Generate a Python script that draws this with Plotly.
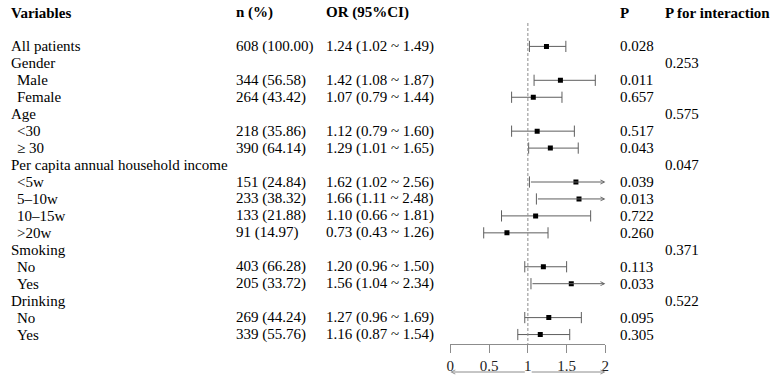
import plotly.graph_objects as go

# ---------------- data ----------------
labels = ["All patients", "Gender", "Male", "Female", "Age", "<30", "≥ 30",
          "Per capita annual household income", "<5w", "5–10w", "10–15w", ">20w",
          "Smoking", "No", "Yes", "Drinking", "No", "Yes"]
indent = [0, 0, 1, 1, 0, 1, 1, 0, 1, 1, 1, 1, 0, 1, 1, 0, 1, 1]
n_pct = ["608 (100.00)", "", "344 (56.58)", "264 (43.42)", "", "218 (35.86)", "390 (64.14)",
         "", "151 (24.84)", "233 (38.32)", "133 (21.88)", "91 (14.97)", "",
         "403 (66.28)", "205 (33.72)", "", "269 (44.24)", "339 (55.76)"]
odds = [1.24, None, 1.42, 1.07, None, 1.12, 1.29, None, 1.62, 1.66, 1.10, 0.73,
        None, 1.20, 1.56, None, 1.27, 1.16]
lower = [1.02, None, 1.08, 0.79, None, 0.79, 1.01, None, 1.02, 1.11, 0.66, 0.43,
         None, 0.96, 1.04, None, 0.96, 0.87]
upper = [1.49, None, 1.87, 1.44, None, 1.60, 1.65, None, 2.56, 2.48, 1.81, 1.26,
         None, 1.50, 2.34, None, 1.69, 1.54]
p_val = ["0.028", "", "0.011", "0.657", "", "0.517", "0.043", "", "0.039", "0.013",
         "0.722", "0.260", "", "0.113", "0.033", "", "0.095", "0.305"]
p_int = ["", "0.253", "", "", "0.575", "", "", "0.047", "", "", "", "", "0.371",
         "", "", "0.522", "", ""]
headers = ["Variables", "n (%)", "OR (95%CI)", "P", "P for interaction"]
xticks = [0, 0.5, 1, 1.5, 2]
xticklabels = ["0", "0.5", "1", "1.5", "2"]
x_max = 2.0

# ---------------- layout helpers ----------------
W, H = 780, 378
FONT = "Liberation Serif, Times New Roman, Times, serif"
FS = 15
row0_px, row_step = 12.5, 16.95
def row_of(px):
    return (px - row0_px) / row_step

first_row = 2  # header is row 0, blank row 1
rows = [first_row + i for i in range(len(labels))]

ci_color = "#5e5e5e"
axis_color = "#8c8c8c"

fig = go.Figure()

# CI lines (non-clipped)
lx, ly = [], []
cap_x, cap_y = [], []
for r, lo, hi in zip(rows, lower, upper):
    if lo is None:
        continue
    cap_x.append(lo); cap_y.append(r)
    if hi <= x_max:
        lx += [lo, hi, None]; ly += [r, r, None]
        cap_x.append(hi); cap_y.append(r)
fig.add_trace(go.Scatter(x=lx, y=ly, mode="lines", line=dict(color=ci_color, width=1),
                         hoverinfo="skip", showlegend=False))
fig.add_trace(go.Scatter(x=cap_x, y=cap_y, mode="markers",
                         marker=dict(symbol="line-ns", size=8, line=dict(color=ci_color, width=1)),
                         hoverinfo="skip", showlegend=False))

# arrows for clipped CIs
for r, lo, hi in zip(rows, lower, upper):
    if lo is not None and hi > x_max:
        fig.add_annotation(x=x_max, y=r, ax=lo, ay=r, xref="x", yref="y", axref="x", ayref="y",
                           showarrow=True, arrowhead=5, arrowsize=0.8, arrowwidth=1,
                           arrowcolor=ci_color, text="")

# point estimates
px_, py_ = [], []
for r, o in zip(rows, odds):
    if o is not None:
        px_.append(o); py_.append(r)
fig.add_trace(go.Scatter(x=px_, y=py_, mode="markers",
                         marker=dict(symbol="square", size=5, color="black"),
                         showlegend=False))

# reference line at 1
fig.add_shape(type="line", x0=1, x1=1, y0=row_of(23), y1=row_of(344), xref="x", yref="y",
              line=dict(color=axis_color, width=1, dash="3px,2px"))

# text columns
col_px = [8, 235, 326, 623, 669]
indent_px = 14.5
def add_text(xpx, r, t):
    fig.add_annotation(x=xpx / W, y=r, xref="paper", yref="y", text=t,
                       showarrow=False, xanchor="left", yanchor="middle",
                       xshift=-2, borderpad=0,
                       font=dict(family=FONT, size=FS, color="black"))

for h, cx in zip(headers, col_px):
    add_text(cx, 0, f"<b>{h}</b>")

for i, r in enumerate(rows):
    cells = [
        ((indent_px if indent[i] else col_px[0]), labels[i]),
        (col_px[1], n_pct[i]),
        (col_px[2], "" if odds[i] is None else f"{odds[i]:.2f} ({lower[i]:.2f} ~ {upper[i]:.2f})"),
        (col_px[3], p_val[i]),
        (col_px[4], p_int[i]),
    ]
    for cx, t in cells:
        if t:
            add_text(cx, r, t)

# direction arrows below axis
arrow_row = row_of(372)
fig.add_annotation(x=0, y=arrow_row, ax=0.98, ay=arrow_row, xref="x", yref="y", axref="x", ayref="y",
                   showarrow=True, arrowhead=5, arrowsize=0.8, arrowwidth=1, arrowcolor=axis_color, text="")
fig.add_annotation(x=2, y=arrow_row, ax=1.03, ay=arrow_row, xref="x", yref="y", axref="x", ayref="y",
                   showarrow=True, arrowhead=5, arrowsize=0.8, arrowwidth=1, arrowcolor=axis_color, text="")

fig.update_layout(
    width=W, height=H, autosize=False,
    margin=dict(l=0, r=0, t=0, b=0),
    paper_bgcolor="white", plot_bgcolor="rgba(0,0,0,0)",
    xaxis=dict(domain=[451 / W, 607.6 / W], range=[0, 2], anchor="free",
               position=1 - 344 / H, side="bottom",
               tickvals=xticks, ticktext=xticklabels,
               ticks="outside", ticklen=8, tickcolor=axis_color, tickwidth=1,
               showline=True, linecolor=axis_color, linewidth=1,
               showgrid=False, zeroline=False,
               tickfont=dict(family=FONT, size=FS, color="#222")),
    yaxis=dict(domain=[0, 1], range=[row_of(H), row_of(0)], visible=False,
               showgrid=False, zeroline=False),
    showlegend=False,
)

fig.write_html("out.html")
